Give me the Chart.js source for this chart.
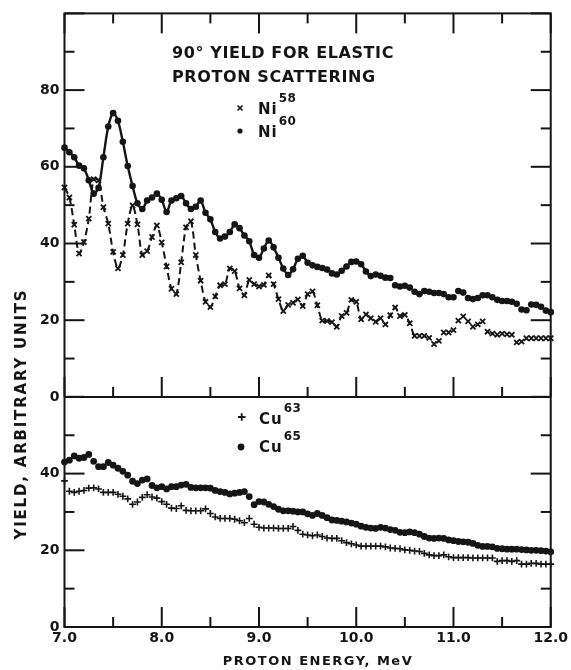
<!DOCTYPE html>
<html>
<head>
<meta charset="utf-8">
<script src="https://cdn.jsdelivr.net/npm/chart.js@4.4.1/dist/chart.umd.min.js"></script>
<style>
  html, body { margin: 0; padding: 0; background: #fff; }
  canvas { display: block; }
</style>
</head>
<body>
<canvas id="chart" width="571" height="670"></canvas>
<script>
// proton energy, MeV
const energy = [
  7.00, 7.05, 7.10, 7.15, 7.20, 7.25, 7.30, 7.35, 7.40, 7.45,
  7.50, 7.55, 7.60, 7.65, 7.70, 7.75, 7.80, 7.85, 7.90, 7.95,
  8.00, 8.05, 8.10, 8.15, 8.20, 8.25, 8.30, 8.35, 8.40, 8.45,
  8.50, 8.55, 8.60, 8.65, 8.70, 8.75, 8.80, 8.85, 8.90, 8.95,
  9.00, 9.05, 9.10, 9.15, 9.20, 9.25, 9.30, 9.35, 9.40, 9.45,
  9.50, 9.55, 9.60, 9.65, 9.70, 9.75, 9.80, 9.85, 9.90, 9.95,
  10.00, 10.05, 10.10, 10.15, 10.20, 10.25, 10.30, 10.35, 10.40, 10.45,
  10.50, 10.55, 10.60, 10.65, 10.70, 10.75, 10.80, 10.85, 10.90, 10.95,
  11.00, 11.05, 11.10, 11.15, 11.20, 11.25, 11.30, 11.35, 11.40, 11.45,
  11.50, 11.55, 11.60, 11.65, 11.70, 11.75, 11.80, 11.85, 11.90, 11.95,
  12.00
];

const ni58 = [
  54.6, 52.0, 44.9, 37.4, 40.4, 46.5, 56.8, 56.5, 49.5, 45.2,
  37.8, 33.5, 37.0, 45.2, 49.9, 45.0, 37.0, 38.0, 41.7, 44.7,
  40.3, 34.0, 28.2, 26.8, 35.1, 44.2, 45.8, 37.0, 30.3, 24.8,
  23.4, 26.2, 29.1, 29.4, 33.5, 32.8, 28.3, 26.5, 30.5, 29.4,
  28.8, 29.2, 31.7, 29.4, 25.5, 22.4, 24.0, 24.5, 25.4, 23.7,
  26.8, 27.5, 23.9, 19.9, 19.8, 19.5, 18.3, 21.1, 21.9, 25.3,
  24.8, 20.2, 21.5, 20.5, 19.6, 20.5, 18.9, 21.3, 23.3, 21.1,
  21.4, 19.2, 15.9, 15.9, 15.9, 15.4, 13.8, 14.6, 16.8, 16.8,
  17.4, 19.9, 21.0, 19.7, 18.3, 18.9, 19.7, 17.0, 16.5, 16.2,
  16.5, 16.3, 16.2, 14.2, 14.4, 15.3, 15.3, 15.3, 15.3, 15.3,
  15.3
];

const ni60 = [
  65.0, 63.8, 62.5, 60.3, 59.6, 56.5, 53.0, 54.5, 62.5, 70.5,
  74.0, 72.0, 66.5, 60.2, 55.0, 50.5, 49.0, 51.2, 52.0, 53.0,
  51.4, 48.2, 51.2, 51.8, 52.4, 50.5, 49.0, 49.6, 51.2, 48.0,
  46.3, 43.0, 41.3, 41.8, 43.0, 45.0, 44.0, 42.1, 40.6, 37.0,
  36.3, 38.7, 40.8, 39.0, 36.3, 33.5, 31.8, 33.3, 36.0, 36.8,
  35.0, 34.3, 33.9, 33.6, 33.2, 32.2, 31.9, 32.9, 34.0, 35.2,
  35.3, 34.6, 32.7, 31.5, 31.9, 31.6, 31.1, 31.0, 29.1, 28.8,
  29.0, 28.5, 27.4, 26.8, 27.6, 27.4, 27.1, 27.1, 26.8, 26.0,
  26.0, 27.6, 27.2, 25.8, 25.5, 25.8, 26.5, 26.5, 26.0, 25.3,
  25.0, 25.0, 24.8, 24.3, 22.8, 22.6, 24.1, 24.0, 23.5, 22.5,
  22.1
];

const cu63 = [
  38.1, 35.4, 35.1, 35.4, 35.6, 36.2, 36.3, 36.0, 35.1, 35.1,
  35.1, 34.6, 34.1, 33.4, 32.0, 32.6, 33.8, 34.5, 33.9, 33.6,
  32.7, 32.0, 31.0, 30.9, 31.6, 30.4, 30.3, 30.3, 30.3, 30.8,
  29.6, 28.7, 28.3, 28.3, 28.3, 28.1, 27.7, 27.2, 28.3, 26.8,
  26.0, 25.8, 25.8, 25.8, 25.7, 25.7, 25.7, 26.2, 25.2, 24.2,
  24.0, 23.8, 24.0, 23.6, 23.2, 23.1, 23.1, 22.5, 22.0, 21.7,
  21.4, 21.1, 21.1, 21.1, 21.1, 21.1, 20.9, 20.6, 20.5, 20.4,
  20.1, 20.0, 19.8, 19.7, 19.2, 18.8, 18.6, 18.6, 18.8, 18.3,
  18.1, 18.1, 18.1, 18.1, 18.0, 18.0, 18.0, 18.0, 18.0, 17.1,
  17.3, 17.3, 17.1, 17.3, 16.4, 16.4, 16.6, 16.6, 16.4, 16.4,
  16.4
];

const cu65 = [
  43.0, 43.5, 44.6, 44.0, 44.2, 45.0, 43.2, 41.8, 41.8, 42.9,
  42.2, 41.4, 40.6, 39.6, 38.0, 37.4, 38.3, 38.6, 36.9, 36.3,
  36.6, 36.0, 36.6, 36.6, 37.0, 37.2, 36.4, 36.3, 36.3, 36.3,
  36.2, 35.6, 35.3, 35.1, 34.7, 34.9, 35.1, 35.3, 34.0, 31.9,
  32.7, 32.6, 32.0, 31.4, 30.7, 30.3, 30.3, 30.2, 30.0, 30.0,
  29.5, 29.1, 29.6, 29.1, 28.5, 27.9, 27.8, 27.6, 27.4, 27.1,
  26.8, 26.3, 26.0, 25.8, 25.7, 26.0, 25.8, 25.4, 25.2, 24.7,
  24.6, 24.8, 24.6, 24.2, 23.6, 23.2, 23.1, 23.2, 23.1, 22.7,
  22.5, 22.3, 22.2, 22.1, 21.8, 21.3, 21.0, 21.0, 20.9, 20.5,
  20.4, 20.3, 20.3, 20.3, 20.2, 20.1, 20.0, 20.0, 19.9, 19.8,
  19.6
];

// axis ticks
const xMajor = [7, 8, 9, 10, 11, 12];
const xMinor = [7.5, 8.5, 9.5, 10.5, 11.5];
const niMajor = [0, 20, 40, 60, 80, 100];
const niMinor = [10, 30, 50, 70, 90];
const cuMajor = [0, 20, 40, 60];
const cuMinor = [10, 30, 50];

const ink = "#151515";
const family = "'DejaVu Sans', sans-serif";
const tickFont = { family: "DejaVu Sans", size: 14, weight: "bold" };

const pts = (ys) => energy.map((e, i) => ({ x: e, y: ys[i] }));
// the drawn curves stop where the points crowd together
const lineUntil = (xEnd) => (c) => (c.p0.parsed.x >= xEnd ? "rgba(0,0,0,0)" : ink);

// ticks pointing inward on all sides, frame and panel divider
const framePlugin = {
  id: "frame",
  beforeDatasetsDraw(chart) {
    const { ctx, chartArea: a, scales } = chart;
    const sx = scales.x, yn = scales.yNi, yc = scales.yCu;
    const mid = yn.bottom;
    ctx.save();
    ctx.strokeStyle = ink;
    ctx.lineWidth = 2;
    ctx.strokeRect(a.left, a.top, a.right - a.left, a.bottom - a.top);
    const line = (x1, y1, x2, y2) => {
      ctx.beginPath();
      ctx.moveTo(x1, y1);
      ctx.lineTo(x2, y2);
      ctx.stroke();
    };
    line(a.left, mid, a.right, mid);
    for (const [vals, len] of [[xMajor, 20], [xMinor, 10]]) {
      for (const v of vals) {
        const px = sx.getPixelForValue(v);
        line(px, a.top, px, a.top + len);
        line(px, mid, px, mid - len);
        line(px, a.bottom, px, a.bottom - len);
      }
    }
    for (const [s, major, minor] of [[yn, niMajor, niMinor], [yc, cuMajor, cuMinor]]) {
      for (const [vals, len] of [[major, 20], [minor, 10]]) {
        for (const v of vals) {
          const py = s.getPixelForValue(v);
          line(a.left, py, a.left + len, py);
          line(a.right, py, a.right - len, py);
        }
      }
    }
    ctx.restore();
  },
  afterDraw(chart) {
    const { ctx } = chart;
    ctx.save();
    ctx.fillStyle = ink;
    ctx.strokeStyle = ink;
    ctx.textBaseline = "alphabetic";

    // axis titles
    ctx.font = "bold 13px " + family;
    ctx.letterSpacing = "1.5px";
    ctx.textAlign = "center";
    ctx.fillText("PROTON ENERGY, MeV", 318, 665);

    ctx.save();
    ctx.translate(26, 414);
    ctx.rotate(-Math.PI / 2);
    ctx.font = "bold 15px " + family;
    ctx.letterSpacing = "1.8px";
    ctx.fillText("YIELD, ARBITRARY UNITS", 0, 0);
    ctx.restore();

    // heading inside the top panel
    ctx.textAlign = "left";
    ctx.font = "bold 16px " + family;
    ctx.letterSpacing = "0.6px";
    ctx.fillText("90° YIELD FOR ELASTIC", 172, 58);
    ctx.fillText("PROTON SCATTERING", 172, 82);

    const label = (sym, mass, x, y) => {
      ctx.font = "bold 15px " + family;
      ctx.letterSpacing = "1px";
      ctx.fillText(sym, x, y);
      const w = ctx.measureText(sym).width;
      ctx.font = "bold 12px " + family;
      ctx.letterSpacing = "0.5px";
      ctx.fillText(mass, x + w + 1, y - 12);
    };

    // Ni key
    ctx.lineWidth = 1.6;
    ctx.beginPath();
    ctx.moveTo(237.5, 105.5); ctx.lineTo(242.5, 110.5);
    ctx.moveTo(242.5, 105.5); ctx.lineTo(237.5, 110.5);
    ctx.stroke();
    label("Ni", "58", 258, 114);
    ctx.beginPath(); ctx.arc(240, 131, 2.6, 0, Math.PI * 2); ctx.fill();
    label("Ni", "60", 258, 137);

    // Cu key
    ctx.lineWidth = 1.8;
    ctx.beginPath();
    ctx.moveTo(238, 417); ctx.lineTo(245.5, 417);
    ctx.moveTo(241.7, 413.2); ctx.lineTo(241.7, 420.8);
    ctx.stroke();
    label("Cu", "63", 259, 424);
    ctx.beginPath(); ctx.arc(241, 447, 3.4, 0, Math.PI * 2); ctx.fill();
    label("Cu", "65", 259, 452);

    ctx.restore();
  }
};

const ctx = document.getElementById("chart");

const myChart = new Chart(ctx, {
  type: "scatter",
  data: {
    datasets: [
      {
        label: "Ni58",
        data: pts(ni58),
        yAxisID: "yNi",
        showLine: true,
        borderColor: ink,
        borderWidth: 2,
        borderDash: [7, 4],
        tension: 0.3,
        segment: { borderColor: lineUntil(10.6) },
        pointStyle: "crossRot",
        pointRadius: 3.6,
        pointBorderWidth: 1.8,
        pointBorderColor: ink,
        clip: false,
      },
      {
        label: "Ni60",
        data: pts(ni60),
        yAxisID: "yNi",
        showLine: true,
        borderColor: ink,
        borderWidth: 2.4,
        tension: 0.3,
        segment: { borderColor: lineUntil(10.3) },
        pointStyle: "circle",
        pointRadius: 3.3,
        pointBorderWidth: 0,
        pointBackgroundColor: ink,
        clip: false,
      },
      {
        label: "Cu63",
        data: pts(cu63),
        yAxisID: "yCu",
        showLine: false,
        pointStyle: "cross",
        pointRadius: 3.4,
        pointBorderWidth: 1.6,
        pointBorderColor: ink,
        clip: false,
      },
      {
        label: "Cu65",
        data: pts(cu65),
        yAxisID: "yCu",
        showLine: false,
        pointStyle: "circle",
        pointRadius: 3.4,
        pointBorderWidth: 0,
        pointBackgroundColor: ink,
        clip: false,
      },
    ],
  },
  options: {
    responsive: false,
    animation: false,
    events: [],
    layout: { autoPadding: false, padding: { left: 0, right: 15, top: 6, bottom: 0 } },
    plugins: { legend: { display: false }, tooltip: { enabled: false } },
    scales: {
      x: {
        type: "linear",
        position: "bottom",
        min: 7,
        max: 12,
        afterFit: (s) => { s.height = 43; },
        afterBuildTicks: (s) => { s.ticks = xMajor.map((v) => ({ value: v })); },
        grid: { display: false, drawTicks: false },
        border: { display: false },
        ticks: {
          color: ink,
          font: tickFont,
          padding: 3,
          maxRotation: 0,
          autoSkip: false,
          callback: (v) => v.toFixed(1),
        },
      },
      yCu: {
        type: "linear",
        position: "left",
        stack: "panels",
        stackWeight: 60,
        min: 0,
        max: 60,
        afterFit: (s) => { s.width = 64.5; },
        afterBuildTicks: (s) => { s.ticks = cuMajor.map((v) => ({ value: v })); },
        grid: { display: false, drawTicks: false },
        border: { display: false },
        ticks: {
          color: ink,
          font: tickFont,
          padding: 5,
          callback: (v) => (v === 60 ? "" : String(v)),
        },
      },
      yNi: {
        type: "linear",
        position: "left",
        stack: "panels",
        stackWeight: 100,
        min: 0,
        max: 100,
        afterFit: (s) => { s.width = 64.5; },
        afterBuildTicks: (s) => { s.ticks = niMajor.map((v) => ({ value: v })); },
        grid: { display: false, drawTicks: false },
        border: { display: false },
        ticks: {
          color: ink,
          font: tickFont,
          padding: 5,
          callback: (v) => (v === 100 ? "" : String(v)),
        },
      },
    },
  },
  plugins: [framePlugin],
});
</script>
</body>
</html>
